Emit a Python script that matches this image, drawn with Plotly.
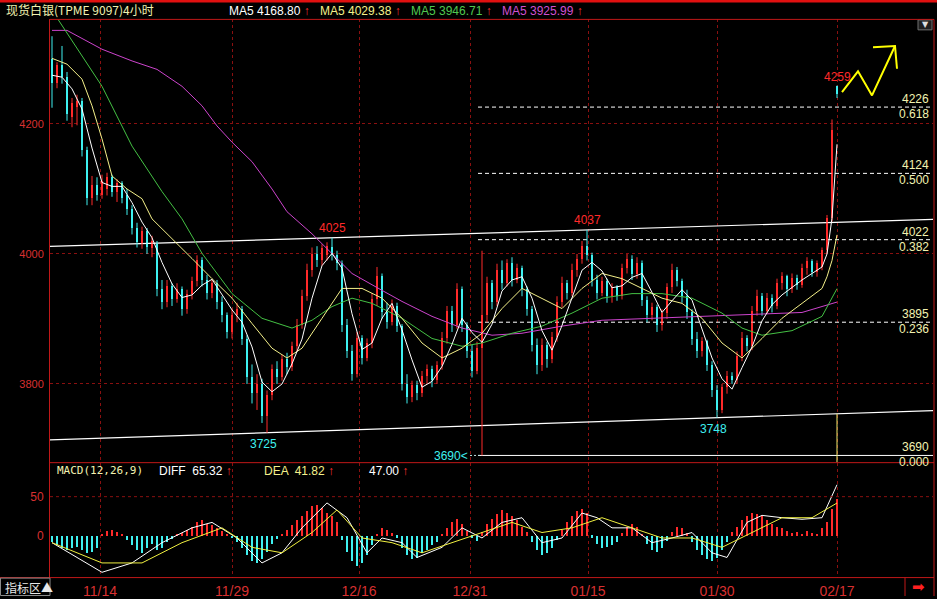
import plotly.graph_objects as go

# ---------------- data: 4-hour silver bars (index = bar number) ----------------
opens = [4300, 4262, 4290, 4272, 4210, 4225, 4235, 4160, 4085, 4105,
         4090, 4100, 4118, 4095, 4108, 4090, 4068, 4040, 4015, 4035,
         4008, 4015, 3945, 3925, 3950, 3930, 3945, 3915, 3938, 3958,
         3990, 3960, 3940, 3955, 3925, 3905, 3880, 3905, 3915, 3868,
         3810, 3785, 3800, 3750, 3782, 3822, 3810, 3838, 3825, 3858,
         3890, 3935, 3975, 4000, 3990, 3998, 4010, 3998, 3985, 3890,
         3850, 3815, 3870, 3840, 3862, 3930, 3965, 3910, 3895, 3920,
         3888, 3800, 3780, 3798, 3785, 3812, 3822, 3805, 3828, 3870,
         3912, 3890, 3945, 3890, 3850, 3820, 3855, 3905, 3955, 3925,
         3975, 3955, 3985, 3960, 3978, 3945, 3915, 3860, 3828, 3860,
         3838, 3872, 3925, 3955, 3940, 3975, 3992, 4012, 3998, 3960,
         3940, 3958, 3935, 3948, 3935, 3978, 3992, 3968, 3985, 3928,
         3905, 3918, 3890, 3908, 3948, 3975, 3958, 3935, 3910, 3868,
         3850, 3865, 3828, 3790, 3760, 3795, 3812, 3805, 3842, 3870,
         3858, 3912, 3935, 3912, 3932, 3920, 3955, 3965, 3945, 3962,
         3952, 3978, 3988, 3972, 3980, 4005, 4055, 4258]
highs = [4335, 4295, 4320, 4280, 4240, 4245, 4240, 4165, 4120, 4118,
         4122, 4125, 4122, 4115, 4112, 4100, 4075, 4048, 4042, 4040,
         4028, 4020, 3960, 3960, 3955, 3955, 3950, 3945, 3965, 3998,
         3995, 3968, 3960, 3960, 3935, 3910, 3915, 3925, 3920, 3875,
         3830, 3815, 3808, 3790, 3830, 3835, 3845, 3848, 3865, 3900,
         3945, 3985, 4010, 4012, 4015, 4018, 4025, 4005, 3990, 3900,
         3860, 3880, 3875, 3870, 3940, 3980, 3970, 3925, 3930, 3925,
         3892, 3815, 3805, 3805, 3820, 3830, 3828, 3835, 3880, 3920,
         3920, 3955, 3950, 3895, 3860, 3865, 4005, 3965, 3960, 3985,
         3990, 3992, 3995, 3985, 3982, 3950, 3920, 3870, 3870, 3865,
         3880, 3935, 3965, 3960, 3985, 4000, 4020, 4037, 4002, 3968,
         3965, 3962, 3955, 3952, 3985, 4000, 3998, 3995, 3990, 3935,
         3925, 3922, 3915, 3955, 3985, 3980, 3962, 3945, 3915, 3880,
         3872, 3868, 3835, 3798, 3800, 3820, 3818, 3850, 3880, 3875,
         3920, 3945, 3940, 3940, 3938, 3962, 3972, 3968, 3970, 3968,
         3985, 3995, 3992, 3990, 4010, 4060, 4207, 4259]
lows = [4225, 4255, 4262, 4205, 4195, 4198, 4150, 4075, 4075, 4082,
        4085, 4090, 4088, 4080, 4078, 4060, 4030, 4010, 4008, 4000,
        3995, 3935, 3915, 3918, 3920, 3925, 3905, 3908, 3930, 3950,
        3950, 3930, 3932, 3915, 3895, 3870, 3870, 3895, 3860, 3800,
        3770, 3760, 3740, 3725, 3775, 3800, 3805, 3815, 3820, 3850,
        3885, 3928, 3965, 3980, 3982, 3990, 3990, 3975, 3880, 3840,
        3805, 3810, 3830, 3835, 3855, 3920, 3900, 3885, 3890, 3880,
        3790, 3770, 3772, 3775, 3780, 3800, 3795, 3800, 3822, 3862,
        3880, 3885, 3880, 3840, 3810, 3815, 3690, 3895, 3915, 3920,
        3945, 3950, 3950, 3955, 3935, 3905, 3850, 3815, 3820, 3825,
        3832, 3865, 3918, 3930, 3935, 3965, 3985, 3990, 3950, 3930,
        3935, 3925, 3925, 3928, 3930, 3970, 3960, 3962, 3920, 3895,
        3898, 3880, 3882, 3900, 3940, 3950, 3925, 3900, 3860, 3840,
        3842, 3820, 3780, 3748, 3755, 3785, 3800, 3800, 3835, 3850,
        3852, 3905, 3905, 3908, 3910, 3915, 3945, 3935, 3940, 3945,
        3948, 3968, 3965, 3965, 3975, 4000, 4050, 4240]
closes = [4262, 4290, 4272, 4215, 4232, 4235, 4160, 4085, 4105, 4090,
          4112, 4118, 4095, 4108, 4085, 4068, 4040, 4018, 4035, 4010,
          4020, 3945, 3925, 3950, 3930, 3945, 3915, 3938, 3958, 3990,
          3960, 3940, 3955, 3925, 3905, 3880, 3905, 3915, 3868, 3810,
          3785, 3800, 3750, 3782, 3822, 3810, 3838, 3825, 3858, 3890,
          3935, 3975, 4000, 3990, 4008, 4012, 3998, 3985, 3890, 3850,
          3815, 3870, 3840, 3862, 3930, 3965, 3910, 3895, 3920, 3888,
          3800, 3780, 3798, 3785, 3812, 3822, 3805, 3828, 3870, 3912,
          3890, 3945, 3890, 3850, 3820, 3855, 3905, 3955, 3925, 3975,
          3955, 3985, 3960, 3978, 3945, 3915, 3860, 3828, 3860, 3838,
          3872, 3925, 3955, 3940, 3975, 3992, 4012, 3998, 3960, 3940,
          3958, 3935, 3948, 3935, 3978, 3992, 3968, 3985, 3928, 3905,
          3918, 3890, 3908, 3948, 3975, 3958, 3935, 3910, 3868, 3850,
          3865, 3828, 3790, 3760, 3795, 3812, 3805, 3842, 3870, 3858,
          3912, 3935, 3912, 3932, 3920, 3955, 3965, 3945, 3962, 3952,
          3978, 3988, 3972, 3985, 4005, 4055, 4190, 4245]

# moving averages (bar index, value)
ma_white_idx = [0, 2, 4, 6, 8, 10, 12, 14, 16, 18, 20, 22, 24, 26, 28, 30, 32, 34, 36, 38,
                40, 42, 44, 46, 48, 50, 52, 54, 56, 58, 60, 62, 64, 66, 68, 70, 72, 74, 76, 78,
                80, 82, 84, 86, 88, 90, 92, 94, 96, 98, 100, 102, 104, 106, 108, 110, 112, 114,
                116, 118, 120, 122, 124, 126, 128, 130, 132, 134, 136, 138, 140, 142, 144, 146,
                148, 150, 152, 154, 155, 156, 157]
ma_white_val = [4275, 4272, 4254, 4223, 4163, 4110, 4104, 4104, 4079, 4049, 4025, 3987, 3954,
                3933, 3937, 3952, 3961, 3937, 3914, 3895, 3857, 3803, 3788, 3800, 3831, 3869,
                3932, 3982, 4001, 3978, 3908, 3853, 3863, 3901, 3924, 3883, 3837, 3795, 3804,
                3827, 3861, 3901, 3879, 3864, 3892, 3943, 3960, 3965, 3932, 3882, 3852, 3890,
                3933, 3975, 3987, 3974, 3948, 3951, 3964, 3970, 3941, 3910, 3928, 3945, 3929,
                3886, 3840, 3808, 3792, 3825, 3857, 3897, 3922, 3937, 3949, 3960, 3970, 3980,
                4000, 4055, 4168.80]
ma_yellow_idx = [0, 3, 6, 8, 10, 12, 15, 18, 20, 24, 28, 32, 36, 40, 44, 47, 50, 54, 58, 62,
                 66, 70, 74, 78, 82, 86, 90, 94, 98, 102, 106, 110, 114, 118, 122, 126, 130,
                 134, 138, 142, 146, 150, 154, 155, 156, 157]
ma_yellow_val = [4301, 4292, 4269, 4228, 4177, 4120, 4100, 4085, 4054, 4024, 3993, 3962, 3932,
                 3893, 3855, 3840, 3855, 3901, 3947, 3947, 3932, 3901, 3863, 3840, 3855, 3878,
                 3916, 3947, 3932, 3916, 3947, 3970, 3962, 3947, 3932, 3924, 3901, 3863, 3840,
                 3870, 3901, 3924, 3947, 3965, 3990, 4029.38]
ma_green_idx = [0, 10, 16, 22, 26, 30, 36, 42, 48, 52, 56, 60, 64, 70, 76, 82, 86, 92, 98,
                104, 110, 116, 122, 128, 134, 138, 142, 148, 154, 157]
ma_green_val = [4375, 4258, 4166, 4096, 4054, 4001, 3939, 3901, 3886, 3898, 3919, 3932, 3924,
                3901, 3870, 3858, 3863, 3878, 3889, 3909, 3932, 3939, 3939, 3932, 3909, 3886,
                3875, 3882, 3904, 3946.71]
ma_magenta_idx = [0, 3, 10, 16, 21, 26, 30, 33, 36, 40, 44, 47, 52, 60, 66, 70, 76, 82, 88,
                  94, 102, 110, 120, 130, 142, 150, 157]
ma_magenta_val = [4344, 4344, 4315, 4297, 4284, 4258, 4228, 4197, 4172, 4142, 4100, 4065,
                  4031, 3970, 3944, 3927, 3904, 3886, 3875, 3878, 3889, 3898, 3901, 3904,
                  3907, 3910, 3925.99]

# MACD(12,26,9): histogram per bar, DIFF / DEA lines
macd_hist = [-8, -12, -15, -18, -16, -14, -18, -22, -20, -15,
             3, 6, 8, 5, 2,
             -5, -12, -18, -22, -15,
             -10, -18, -15, -8, -4, 2,
             4, 8, 12, 18, 20, 16, 14, 10, 6, 2, -3,
             -8, -15, -25, -32, -35, -30, -20, -10,
             -4, 2, 8, 14, 20,
             26, 32, 38, 40, 36, 30, 25, 18,
             -5, -20, -32, -38, -35, -25,
             -12, 2, 10, 8, 4, -2,
             -15, -25, -30, -28, -22, -18, -12, -8,
             2, 10, 18, 22, 15, 6, -2, -6,
             5, 15, 22, 28, 33, 30, 26, 20, 12, 5,
             -8, -18, -25, -22, -15, -5,
             8, 18, 25, 32, 35, 30,
             -2, -10, -15, -14, -12, -8,
             4, 12, 15, 12, 3,
             -10, -18, -20, -15, -6,
             5, 12, 10, 4,
             -8, -18, -25, -30, -32, -28, -18, -8,
             5, 12, 20, 25, 30, 28, 25, 20, 15, 12, 10,
             6, 4, 5, 3, 6, 4, 3,
             10, 18, 35, 47.00]
diff_idx = [0, 10, 16, 22, 28, 32, 37, 42, 46, 50, 55, 59, 63, 66, 70, 73, 78, 82, 86, 90,
            94, 98, 102, 106, 109, 112, 116, 120, 124, 128, 132, 135, 139, 142, 146, 150,
            154, 157]
diff_val = [-9, -47, -35, -9, 10, 17, -3, -35, -22, 10, 42, 23, -22, -3, -9, -28, -15, 10,
            -3, 17, 23, -9, -3, 29, 23, 10, 10, -9, -3, 4, -22, -28, 17, 26, 23, 21, 23, 65.32]
dea_idx = [0, 10, 18, 26, 34, 40, 46, 52, 57, 62, 68, 74, 80, 86, 92, 98, 104, 110, 116,
           122, 128, 134, 140, 146, 152, 157]
dea_val = [-9, -35, -35, -9, 10, -15, -22, 4, 33, -3, -9, -22, -9, 4, 17, 4, 10, 23, 10, -3,
           -3, -15, 4, 23, 23, 41.82]

# marked extremes and Fibonacci levels
peak_bars = [56, 107]          # highs joined by the upper channel line
trough_bars = [43, 133]        # lows joined by the lower channel line
spike_bar = 86                 # bar with the 3690 low
last_bar = 157
fib_prices = [4226, 4124, 4022, 3895, 3690]
fib_ratios = ["0.618", "0.500", "0.382", "0.236", "0.000"]

date_pos = [9.6, 36, 61.4, 83.6, 107.2, 133, 157]
date_labels = ["11/14", "11/29", "12/16", "12/31", "01/15", "01/30", "02/17"]

# freehand up-arrow sketch near the last bar (bar index, price)
sketch_x = [158.0, 161.2, 164.0, 168.6]
sketch_y = [4249, 4281, 4244, 4320]
sketch_head_x = [164.2, 168.6, 169.0]
sketch_head_y = [4318, 4320, 4285]

# ---------------- styling ----------------
W, H = 937, 599
UP, DOWN = "#ff2a2a", "#3ff0f0"
GRID = "#8a1010"
AXIS = "#c01818"
AXIS_TXT = "#d83030"
PALE = "#f2f2b0"
NUM_FONT = "Liberation Sans"
CJK_FONT = "Noto Sans CJK SC"
BODY_W = 0.5

X_MIN, X_MAX = -0.4, 176.2
Y_MIN, Y_MAX = 3678.9, 4360.9
M_MIN, M_MAX = -53.8, 93.6


def px(x):
    return x / W


def py(y):
    return 1 - y / H


def trend(i0, p0, i1, p1, xs):
    k = (p1 - p0) / (i1 - i0)
    return [p0 + k * (x - i0) for x in xs]


idx = list(range(len(closes)))
fig = go.Figure()

# channel lines through the marked highs / lows
upper = trend(peak_bars[0], highs[peak_bars[0]], peak_bars[1], highs[peak_bars[1]], [X_MIN, X_MAX])
lower = trend(trough_bars[0], lows[trough_bars[0]], trough_bars[1], lows[trough_bars[1]], [X_MIN, X_MAX])
for ys in (upper, lower):
    fig.add_trace(go.Scatter(x=[X_MIN, X_MAX], y=ys, mode="lines",
                             line=dict(color="#ffffff", width=1.2), hoverinfo="skip"))

# Fibonacci retracement levels
fib_start = spike_bar - 0.8
for price, ratio in zip(fib_prices, fib_ratios):
    solid = ratio == "0.000"
    fig.add_trace(go.Scatter(x=[fib_start, X_MAX], y=[price, price], mode="lines",
                             line=dict(color="#ffffff", width=1, dash=None if solid else "4px,3px"),
                             hoverinfo="skip"))

# candles: wicks as line segments, bodies as floating bars
rising = [c >= o for o, c in zip(opens, closes)]
for want, col in ((True, UP), (False, DOWN)):
    wx, wy = [], []
    for i in idx:
        if rising[i] == want:
            wx += [i, i, None]
            wy += [lows[i], highs[i], None]
    fig.add_trace(go.Scatter(x=wx, y=wy, mode="lines", line=dict(color=col, width=1),
                             hoverinfo="skip"))
fig.add_trace(go.Bar(
    x=idx, base=[min(o, c) for o, c in zip(opens, closes)],
    y=[max(abs(c - o), 1.5) for o, c in zip(opens, closes)],
    width=BODY_W, marker=dict(color=[UP if r else DOWN for r in rising], line_width=0),
    hoverinfo="skip"))

# moving averages
for xs, ys, col in ((ma_magenta_idx, ma_magenta_val, "#cc44cc"),
                    (ma_green_idx, ma_green_val, "#44c044"),
                    (ma_yellow_idx, ma_yellow_val, "#f4f08a"),
                    (ma_white_idx, ma_white_val, "#ffffff")):
    fig.add_trace(go.Scatter(x=xs, y=ys, mode="lines", line=dict(color=col, width=1),
                             hoverinfo="skip"))

# cursor at the last bar, from the lower channel line down
fig.add_trace(go.Scatter(
    x=[last_bar, last_bar],
    y=[trend(trough_bars[0], lows[trough_bars[0]], trough_bars[1], lows[trough_bars[1]], [last_bar])[0], Y_MIN],
    mode="lines", line=dict(color="#f0f070", width=1), hoverinfo="skip"))

# dotted leader to the 3690 low
fig.add_trace(go.Scatter(x=[spike_bar - 2.4, spike_bar], y=[lows[spike_bar]] * 2, mode="lines",
                         line=dict(color="#c0e0e0", width=1, dash="2px,2px"), hoverinfo="skip"))

# freehand arrow
fig.add_trace(go.Scatter(x=sketch_x, y=sketch_y, mode="lines",
                         line=dict(color="#ffff00", width=2), hoverinfo="skip"))
fig.add_trace(go.Scatter(x=sketch_head_x, y=sketch_head_y, mode="lines",
                         line=dict(color="#ffff00", width=2), hoverinfo="skip"))

# MACD panel
fig.add_trace(go.Bar(x=idx, y=macd_hist, yaxis="y2", width=0.3,
                     marker=dict(color=[UP if v >= 0 else DOWN for v in macd_hist], line_width=0),
                     hoverinfo="skip"))
fig.add_trace(go.Scatter(x=diff_idx, y=diff_val, yaxis="y2", mode="lines",
                         line=dict(color="#ffffff", width=1), hoverinfo="skip"))
fig.add_trace(go.Scatter(x=dea_idx, y=dea_val, yaxis="y2", mode="lines",
                         line=dict(color="#f0f040", width=1), hoverinfo="skip"))

# ---------------- annotations ----------------
ann = []


def text(x, y, s, color, size=12, xanchor="left", family=NUM_FONT, **kw):
    ann.append(dict(x=px(x), y=py(y), xref="paper", yref="paper", text=s, showarrow=False,
                    xanchor=xanchor, yanchor="middle", font=dict(color=color, size=size, family=family),
                    **kw))


ARROW = "<span style='color:#ff3030'> ↑</span>"
text(4, 10, "现货白银(TPME 9097)4小时", PALE, 12, family=CJK_FONT)
text(227, 11, f"MA5 {ma_white_val[-1]:.2f}" + ARROW, "#ffffff")
text(318, 11, f"MA5 {ma_yellow_val[-1]:.2f}" + ARROW, "#f4f08a")
text(409, 11, f"MA5 {ma_green_val[-1]:.2f}" + ARROW, "#50c850")
text(500, 11, f"MA5 {ma_magenta_val[-1]:.2f}" + ARROW, "#d050d0")

text(55, 473, "MACD(12,26,9)", PALE, 11, family="DejaVu Sans Mono")
text(157, 473, f"DIFF  {diff_val[-1]:.2f}" + ARROW, "#ffffff")
text(262, 473, f"DEA  {dea_val[-1]:.2f}" + ARROW, "#f4f08a")
text(367, 473, f"{macd_hist[-1]:.2f}" + ARROW, "#ffffff")

# Fibonacci labels on the right edge
for price, ratio in zip(fib_prices, fib_ratios):
    for s, shift in ((str(price), 8), (ratio, -7)):
        ann.append(dict(x=px(931), y=price, xref="paper", yref="y", text=s, showarrow=False,
                        xanchor="right", yanchor="middle", yshift=shift,
                        font=dict(color=PALE, size=12, family=NUM_FONT)))

# extreme prices
for b in peak_bars:
    ann.append(dict(x=b, y=highs[b], xref="x", yref="y", text=str(highs[b]), showarrow=False,
                    yshift=10, font=dict(color=UP, size=12, family=NUM_FONT)))
for b in trough_bars:
    ann.append(dict(x=b, y=lows[b], xref="x", yref="y", text=str(lows[b]), showarrow=False,
                    yshift=-11, xshift=-4, font=dict(color=DOWN, size=12, family=NUM_FONT)))
ann.append(dict(x=spike_bar - 2.4, y=lows[spike_bar], xref="x", yref="y", text=f"{lows[spike_bar]}<",
                showarrow=False, xanchor="right", yshift=-1,
                font=dict(color=DOWN, size=12, family=NUM_FONT)))
ann.append(dict(x=last_bar, y=highs[last_bar], xref="x", yref="y", text=str(highs[last_bar]),
                showarrow=False, yshift=9, font=dict(color=UP, size=12, family=NUM_FONT)))

# bottom bar widgets
text(3, 590, "指标区▲", "#e8e8e8", 12, family=CJK_FONT)
text(918, 590, "➡", "#ff2020", 15, xanchor="center", family="DejaVu Sans")
text(925, 25, "▼", "#e0e0e0", 8, xanchor="center", family="DejaVu Sans")

# ---------------- frame lines ----------------
shapes = []


def hline(y, x0, x1, color=AXIS, width=1):
    shapes.append(dict(type="line", xref="paper", yref="paper", x0=px(x0), x1=px(x1),
                       y0=py(y), y1=py(y), line=dict(color=color, width=width)))


def vline(x, y0, y1, color=AXIS, width=1):
    shapes.append(dict(type="line", xref="paper", yref="paper", x0=px(x), x1=px(x),
                       y0=py(y0), y1=py(y1), line=dict(color=color, width=width)))


shapes.append(dict(type="rect", xref="paper", yref="paper", x0=0, x1=1, y0=py(2.5), y1=1,
                   line_width=0, fillcolor="#e01010"))
hline(19.5, 50, 934)
hline(465, 50, 934)
hline(580.5, 0, 934)
vline(934, 19.5, 599)
vline(905, 580.5, 599)
shapes.append(dict(type="rect", xref="paper", yref="paper", x0=px(0.5), x1=px(50), y0=py(598.5),
                   y1=py(581), line=dict(color="#8a8a8a", width=1)))
shapes.append(dict(type="rect", xref="paper", yref="paper", x0=px(918), x1=px(932), y0=py(30),
                   y1=py(20), line=dict(color="#707070", width=1), fillcolor="#202020", layer="below"))
# dashed 50 level in the MACD panel
shapes.append(dict(type="line", xref="paper", yref="y2", x0=px(50), x1=px(933), y0=50, y1=50,
                   line=dict(color=GRID, width=1, dash="3px,3px")))

fig.update_layout(
    width=W, height=H, autosize=False, margin=dict(l=0, r=0, t=0, b=0),
    paper_bgcolor="black", plot_bgcolor="black", showlegend=False,
    barmode="overlay", bargap=0, annotations=ann, shapes=shapes,
    xaxis=dict(domain=[px(50), px(933)], range=[X_MIN, X_MAX], anchor="y2",
               showgrid=True, gridcolor=GRID, gridwidth=1,
               griddash="3px,3px", tickvals=date_pos, ticktext=date_labels, ticks="",
               tickfont=dict(color=AXIS_TXT, size=14, family=NUM_FONT), ticklabelstandoff=3,
               showline=False, zeroline=False, fixedrange=True),
    yaxis=dict(domain=[py(465), py(19.5)], range=[Y_MIN, Y_MAX], anchor="x",
               tickvals=[3800, 4000, 4200], ticks="", showgrid=True, gridcolor=GRID,
               griddash="3px,3px", tickfont=dict(color=AXIS_TXT, size=11, family=NUM_FONT),
               showline=True, linecolor=AXIS, linewidth=1, zeroline=False, fixedrange=True,
               ticklabelstandoff=3),
    yaxis2=dict(domain=[py(580.5), py(465)], range=[M_MIN, M_MAX], anchor="x",
                tickvals=[0, 50], ticks="", showgrid=False,
                tickfont=dict(color=AXIS_TXT, size=12, family=NUM_FONT),
                showline=True, linecolor=AXIS, linewidth=1, zeroline=False, fixedrange=True,
                ticklabelstandoff=3),
)

fig.write_html("out.html")
